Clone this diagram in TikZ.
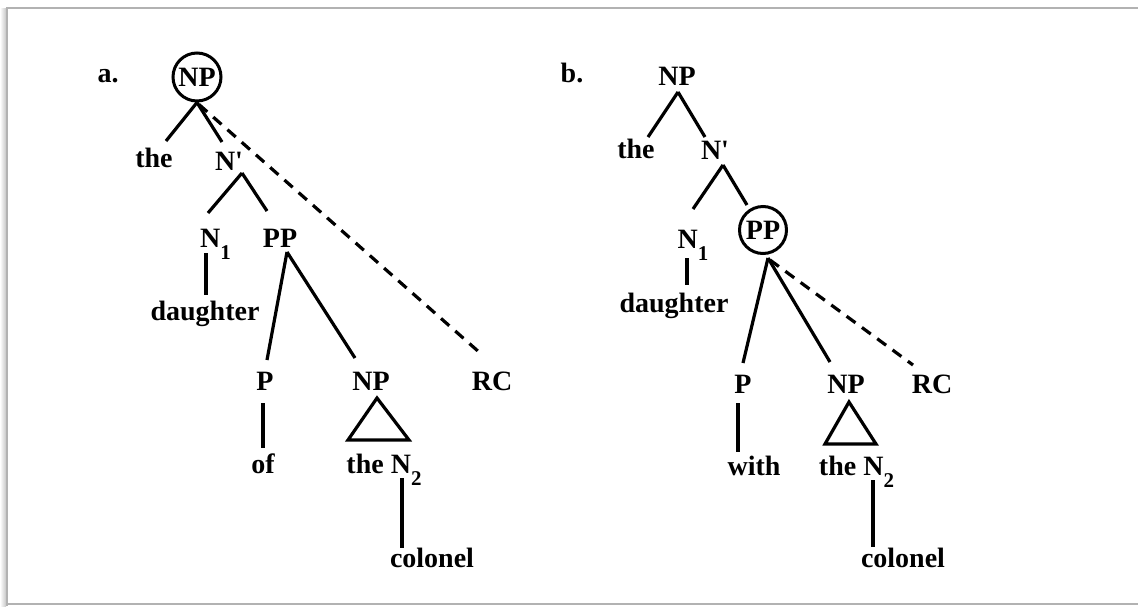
\documentclass[tikz,border=0pt]{standalone}
\usepackage{fontspec}
\newfontfamily\treefam{Liberation Serif Bold}
\newcommand\treefont{\treefam\fontsize{28}{28}\selectfont}
\newcommand\subs[1]{\raisebox{-12pt}{\fontsize{21}{21}\selectfont #1}}
\begin{document}
\begin{tikzpicture}[x=1pt,y=-1pt,
  lbl/.style={anchor=base,inner sep=0pt,font=\treefont},
  circ/.style={circle,draw,line width=3pt,inner sep=0pt,minimum size=48pt,font=\treefont},
  br/.style={line width=3.2pt},
  dsh/.style={line width=3.2pt,dash pattern=on 11pt off 8pt},
  framecol/.style={draw=black!30,line width=2pt}]
\useasboundingbox (0,0) rectangle (1138,606);
\fill[white] (0,0) rectangle (1138,606);
\shade[left color=white,right color=black!22] (0,8) rectangle (6,606);
\draw[framecol] (1138,8) -- (7,8) -- (7,606);
\draw[framecol] (7,604) -- (1138,604);

% ---------- tree a ----------
\node[lbl] (la) at (108,82) {a.};
\node[circ] (NPa) at (197,77) {NP};
\node[lbl] (thea) at (154,167) {the};
\node[lbl] (Npa) at (229,170) {N\textquotesingle};
\node[lbl] (N1a) at (215.5,247) {N\subs{1}};
\node[lbl] (PPa) at (280,247) {PP};
\node[lbl] (daughtera) at (205,320) {daughter};
\node[lbl] (Pa) at (265,390) {P};
\node[lbl] (NPla) at (371,390) {NP};
\node[lbl] (RCa) at (492,390) {RC};
\node[lbl] (ofa) at (263,473) {of};
\node[lbl] (theNa) at (384,473) {the N\subs{2}};
\node[lbl] (colonela) at (432,567) {colonel};

\draw[br] (NPa.south) -- ([shift={(12,-26)}]thea.base);
\draw[br] (NPa.south) -- ([shift={(-7,-28)}]Npa.base);
\draw[dsh] ([shift={(2,2)}]NPa.south) -- ([shift={(-13,-38)}]RCa.base);
\draw[br] ([shift={(13,3)}]Npa.base) -- ([shift={(-7.5,-34)}]N1a.base);
\draw[br] ([shift={(13,3)}]Npa.base) -- ([shift={(-13,-36)}]PPa.base);
\draw[br] ([shift={(-9.5,6)}]N1a.base) -- ([shift={(1,-25)}]daughtera.base);
\draw[br] ([shift={(7,5)}]PPa.base) -- ([shift={(2,-30)}]Pa.base);
\draw[br] ([shift={(7,5)}]PPa.base) -- ([shift={(-16,-32)}]NPla.base);
\draw[br] ([shift={(-2,13)}]Pa.base) -- ([shift={(0,-25)}]ofa.base);
\draw[br,line join=miter] ([shift={(6,8)}]NPla.base) -- ([shift={(-23,50)}]NPla.base) -- ([shift={(38,50)}]NPla.base) -- cycle;
\draw[br] ([shift={(18,5)}]theNa.base) -- ([shift={(-30,-19)}]colonela.base);

% ---------- tree b ----------
\node[lbl] (lb) at (572,82) {b.};
\node[lbl] (NPb) at (677,85) {NP};
\node[lbl] (theb) at (636,158) {the};
\node[lbl] (Npb) at (715,159) {N\textquotesingle};
\node[lbl] (N1b) at (693,248) {N\subs{1}};
\node[circ,minimum size=47pt] (PPb) at (763,230) {PP};
\node[lbl] (daughterb) at (674,312) {daughter};
\node[lbl] (Pb) at (743,393) {P};
\node[lbl] (NPlb) at (846,393) {NP};
\node[lbl] (RCb) at (932,393) {RC};
\node[lbl] (withb) at (754,475) {with};
\node[lbl] (theNb) at (856.5,475) {the N\subs{2}};
\node[lbl] (colonelb) at (903,567) {colonel};

\draw[br] ([shift={(1,7)}]NPb.base) -- ([shift={(12,-21)}]theb.base);
\draw[br] ([shift={(1,7)}]NPb.base) -- ([shift={(-10,-22)}]Npb.base);
\draw[br] ([shift={(8,6)}]Npb.base) -- ([shift={(0,-39)}]N1b.base);
\draw[br] ([shift={(8,6)}]Npb.base) -- ([shift={(-16,-25)}]PPb.center);
\draw[br] ([shift={(-6,10)}]N1b.base) -- ([shift={(13,-27)}]daughterb.base);
\draw[br] ([shift={(5,28)}]PPb.center) -- ([shift={(0,-30)}]Pb.base);
\draw[br] ([shift={(5,28)}]PPb.center) -- ([shift={(-16,-31)}]NPlb.base);
\draw[dsh] ([shift={(7,30)}]PPb.center) -- ([shift={(-19,-28)}]RCb.base);
\draw[br] ([shift={(-5,10)}]Pb.base) -- ([shift={(-16,-23)}]withb.base);
\draw[br,line join=miter] ([shift={(3,9)}]NPlb.base) -- ([shift={(-21,51)}]NPlb.base) -- ([shift={(30,51)}]NPlb.base) -- cycle;
\draw[br] ([shift={(16.5,5)}]theNb.base) -- ([shift={(-30,-20)}]colonelb.base);
\end{tikzpicture}
\end{document}
